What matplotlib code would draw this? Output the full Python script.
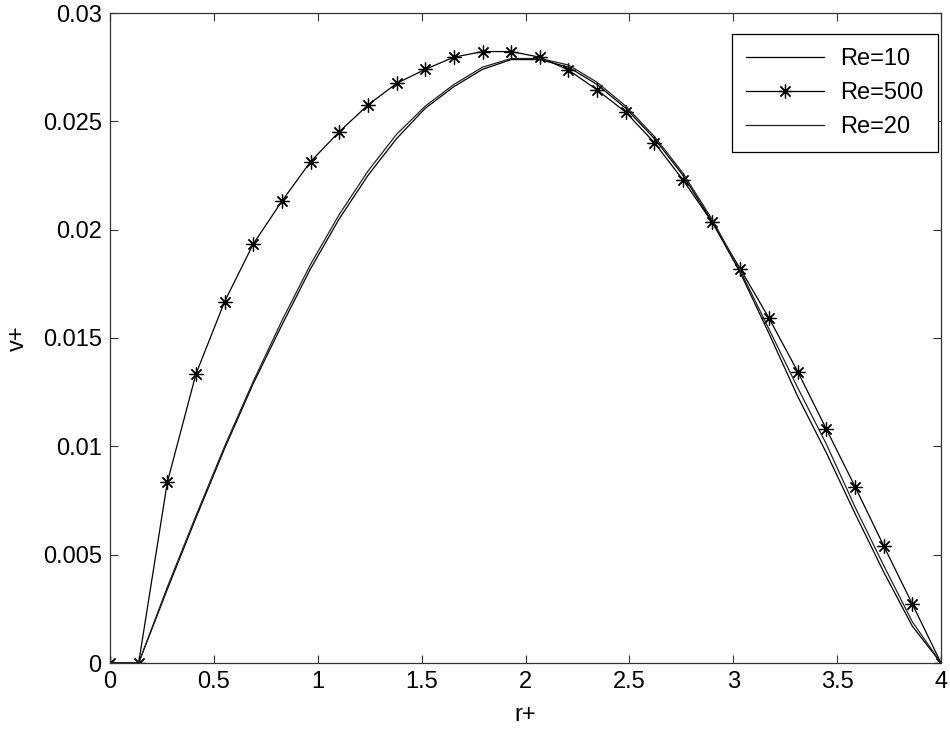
import numpy as np
import matplotlib
matplotlib.use("Agg")
import matplotlib.pyplot as plt
from matplotlib.ticker import FuncFormatter

# ----------------------
# Datos
# ----------------------
r_plus = np.linspace(0, 4, 30)

v_re10 = [0, 0, 0.0034, 0.0067, 0.0099, 0.0129, 0.0156, 0.0182, 0.0205, 0.0225,
          0.0242, 0.0256, 0.0266, 0.0274, 0.02785, 0.02785, 0.0275, 0.0267, 0.0256, 0.0242,
          0.0225, 0.0204, 0.0180, 0.0152, 0.0123, 0.0097, 0.0069, 0.0042, 0.0017, 0]

v_re500 = [0, 0, 0.00834, 0.01334, 0.01668, 0.01934, 0.02132, 0.02314, 0.02452, 0.02575,
           0.02675, 0.02740, 0.02796, 0.02822, 0.02822, 0.02796, 0.02737, 0.02645, 0.02542, 0.02401,
           0.02229, 0.02037, 0.01818, 0.01591, 0.01345, 0.01079, 0.00814, 0.00541, 0.00272, 0]

v_re20 = [0, 0, 0.0035, 0.0068, 0.0100, 0.0130, 0.0158, 0.0184, 0.0207, 0.0227,
          0.0244, 0.0257, 0.0267, 0.0275, 0.0279, 0.0279, 0.0276, 0.0268, 0.0257, 0.0243,
          0.0226, 0.0205, 0.0181, 0.0154, 0.0127, 0.0101, 0.0072, 0.0045, 0.0019, 0]

x_ticks = np.arange(0, 4.01, 0.5)
y_ticks = np.arange(0, 0.0301, 0.005)

# ----------------------
# Figura
# ----------------------
plt.rcParams["font.family"] = ["Liberation Sans", "DejaVu Sans"]
plt.rcParams["font.size"] = 17

fig = plt.figure(figsize=(9.5, 7.32), dpi=100)
ax = fig.add_axes([110 / 950, 1 - 663 / 732, 831 / 950, 650 / 732])

ax.plot(r_plus, v_re10, color="black", linewidth=0.9, label="Re=10")
ax.plot(r_plus, v_re500, color="black", linewidth=0.9, marker=(8, 2, 0),
        markersize=10, markeredgewidth=0.9, label="Re=500")
ax.plot(r_plus, v_re20, color="#222222", linewidth=0.9, label="Re=20")

ax.set_xlim(0, 4)
ax.set_ylim(0, 0.03)
ax.set_xticks(x_ticks)
ax.set_yticks(y_ticks)
fmt = FuncFormatter(lambda v, p: "%g" % round(v, 4))
ax.xaxis.set_major_formatter(fmt)
ax.yaxis.set_major_formatter(fmt)
ax.tick_params(direction="in", length=6, width=0.8, top=True, right=True,
               labelsize=17, pad=6, colors="#333333", labelcolor="black")
for s in ax.spines.values():
    s.set_linewidth(0.9)
    s.set_color("#333333")

ax.set_xlabel("r+", fontsize=17, labelpad=8)
ax.set_ylabel("v+", fontsize=17, labelpad=10)

leg = ax.legend(loc="upper right", bbox_to_anchor=(938 / 950, 1 - 34 / 732),
                bbox_transform=fig.transFigure, borderaxespad=0, fancybox=False,
                edgecolor="black", framealpha=1, handlelength=3.3, handletextpad=0.7,
                labelspacing=0.5, borderpad=0.6)
leg.get_frame().set_linewidth(0.9)

fig.savefig("out.png", dpi=100)
